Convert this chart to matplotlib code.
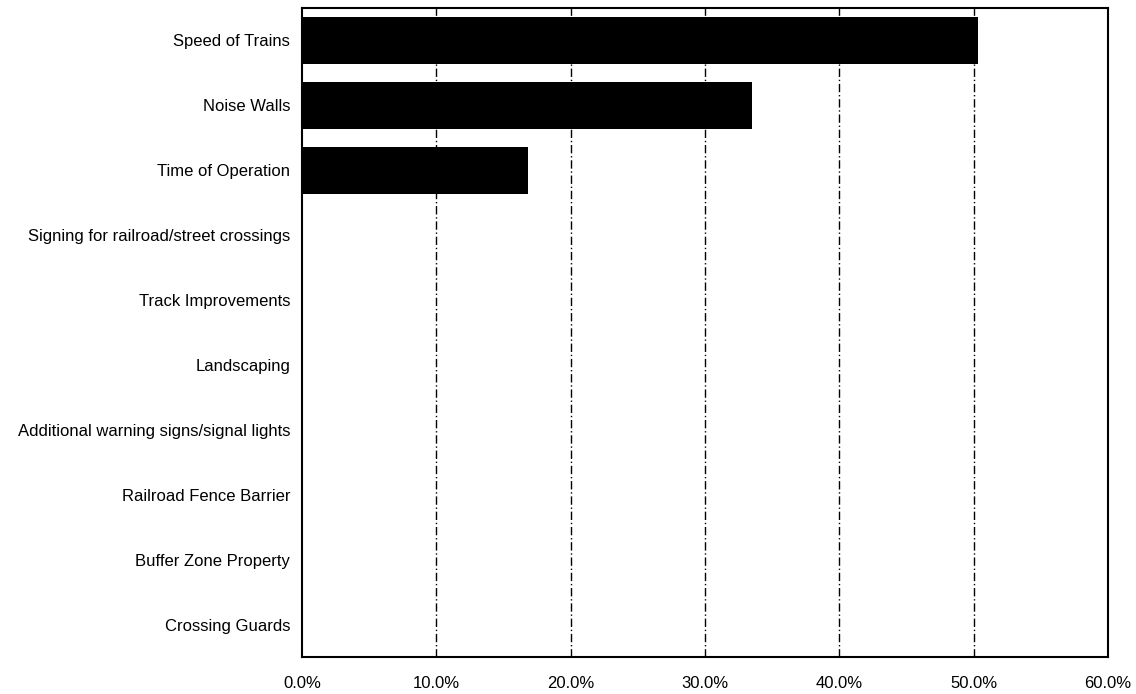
import matplotlib
matplotlib.use("Agg")
import matplotlib.pyplot as plt
import numpy as np

categories = [
    "Speed of Trains",
    "Noise Walls",
    "Time of Operation",
    "Signing for railroad/street crossings",
    "Track Improvements",
    "Landscaping",
    "Additional warning signs/signal lights",
    "Railroad Fence Barrier",
    "Buffer Zone Property",
    "Crossing Guards",
]
values = [50.3, 33.5, 16.8, 0, 0, 0, 0, 0, 0, 0]
x_ticks = [0, 10, 20, 30, 40, 50, 60]
x_tick_labels = ["0.0%", "10.0%", "20.0%", "30.0%", "40.0%", "50.0%", "60.0%"]

plt.rcParams['font.family'] = ['Liberation Sans', 'DejaVu Sans']

fig = plt.figure(figsize=(11.36, 6.94), dpi=100)
ax = fig.add_axes([302/1136, 1 - 657/694, (1108-302)/1136, (657-8)/694])

y = np.arange(len(categories))
ax.barh(y, values, height=0.73, color="black", zorder=3)

ax.set_xlim(0, 60)
ax.set_ylim(len(categories) - 0.5, -0.5)
ax.set_yticks(y)
ax.set_yticklabels(categories, fontsize=12)
ax.set_xticks(x_ticks)
ax.set_xticklabels(x_tick_labels, fontsize=12)
ax.tick_params(axis="y", length=0, pad=8.5)
ax.tick_params(axis="x", length=0, pad=14)

for xv in x_ticks[1:-1]:
    ax.axvline(xv, color="black", linewidth=1.0, linestyle=(0, (6, 2, 1, 2)), zorder=1)

for s in ax.spines.values():
    s.set_linewidth(1.5)
    s.set_color("black")

fig.savefig("out.png", dpi=100)
